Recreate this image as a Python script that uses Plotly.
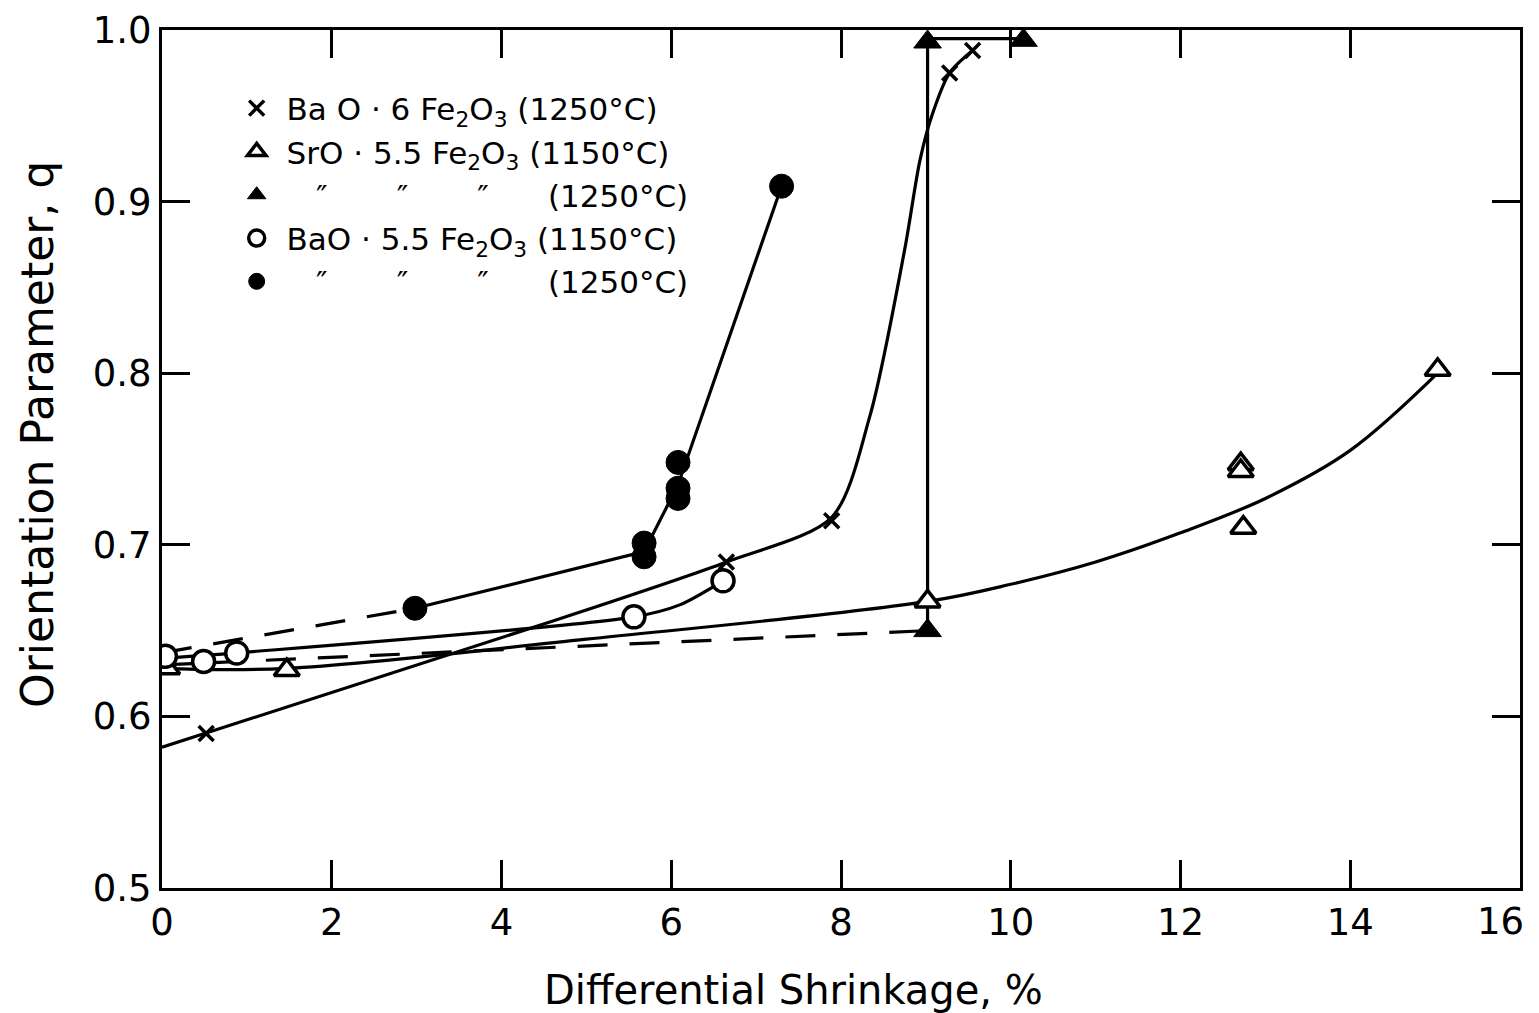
import plotly.graph_objects as go

# ---------------- data ----------------
# BaO.6Fe2O3 (1250 C)  -- x markers
bao6_x = [0.52, 6.65, 7.89, 9.28, 9.55]
bao6_y = [0.590, 0.690, 0.714, 0.975, 0.988]
# fitted curve through BaO.6Fe2O3 points
bao6_fit_x = [0.0, 4.57, 6.65, 7.89, 8.34, 8.75, 8.93, 9.07, 9.28, 9.55]
bao6_fit_y = [0.582, 0.655, 0.690, 0.716, 0.775, 0.872, 0.924, 0.950, 0.975, 0.988]

# SrO.5.5Fe2O3 (1150 C) -- open triangles
sr1150_x = [0.06, 1.47, 9.02, 12.71, 12.71, 12.74, 15.03]
sr1150_y = [0.628, 0.627, 0.667, 0.747, 0.743, 0.710, 0.802]
sr1150_fit_x = [0.0, 1.47, 5.0, 9.02, 10.0, 11.0, 12.0, 13.0, 14.0, 15.03]
sr1150_fit_y = [0.628, 0.628, 0.645, 0.667, 0.677, 0.690, 0.707, 0.727, 0.755, 0.800]

# SrO.5.5Fe2O3 (1250 C) -- filled triangles
sr1250_x = [9.02, 9.02, 10.15]
sr1250_y = [0.650, 0.993, 0.994]
sr1250_dash_x = [0.0, 9.02]
sr1250_dash_y = [0.630, 0.650]
sr1250_step_x = [9.02, 9.02, 10.15]
sr1250_step_y = [0.650, 0.995, 0.995]

# BaO.5.5Fe2O3 (1150 C) -- open circles
ba1150_x = [0.04, 0.49, 0.88, 5.56, 6.61]
ba1150_y = [0.635, 0.632, 0.637, 0.658, 0.679]
ba1150_fit_x = [0.04, 0.88, 5.56, 6.10, 6.61]
ba1150_fit_y = [0.634, 0.637, 0.658, 0.665, 0.679]

# BaO.5.5Fe2O3 (1250 C) -- filled circles
ba1250_x = [2.98, 5.68, 5.68, 6.08, 6.08, 6.08, 7.30]
ba1250_y = [0.663, 0.701, 0.693, 0.748, 0.733, 0.727, 0.909]
ba1250_dash_x = [0.0, 2.98]
ba1250_dash_y = [0.637, 0.663]
ba1250_fit_x = [2.98, 5.68, 6.08, 7.30]
ba1250_fit_y = [0.663, 0.696, 0.735, 0.909]

NB = "\u00a0"
x_ticks = [0, 2, 4, 6, 8, 10, 12, 14, 16]
x_tick_text = ["0", "2", "4", "6", "8", "10", "12", "14", ""]
x_last_label = "16"
y_ticks = [0.5, 0.6, 0.7, 0.8, 0.9, 1.0]
y_tick_text = ["0.5", "0.6", "0.7", "0.8", "0.9", "1.0"]

x_title = "Differential Shrinkage, %"
y_title = "Orientation Parameter, q"

legend_names = [
    NB + "Ba O · 6 Fe<sub>2</sub>O<sub>3</sub> (1250°C)",
    NB + "SrO · 5.5 Fe<sub>2</sub>O<sub>3</sub> (1150°C)",
    NB * 4 + "\u2033" + NB * 7 + "\u2033" + NB * 7 + "\u2033" + NB * 6 + "(1250°C)",
    NB + "BaO · 5.5 Fe<sub>2</sub>O<sub>3</sub> (1150°C)",
    NB * 4 + "\u2033" + NB * 7 + "\u2033" + NB * 7 + "\u2033" + NB * 6 + "(1250°C)",
]

FONT = "DejaVu Sans"
LW = 3.2

fig = go.Figure()

# ---- lines (not in legend) ----
def line(x, y, dash="solid", shape="spline", smoothing=0.8):
    fig.add_trace(go.Scatter(x=x, y=y, mode="lines", showlegend=False,
                             line=dict(color="black", width=LW, dash=dash, shape=shape,
                                       smoothing=smoothing if shape == "spline" else None),
                             hoverinfo="skip"))

line(bao6_fit_x, bao6_fit_y)
line(sr1150_fit_x, sr1150_fit_y, smoothing=1.0)
line(sr1250_dash_x, sr1250_dash_y, dash="30px,22px", shape="linear")
line(sr1250_step_x, sr1250_step_y, shape="linear")
line(ba1150_fit_x, ba1150_fit_y)
line(ba1250_dash_x, ba1250_dash_y, dash="30px,22px", shape="linear")
line(ba1250_fit_x, ba1250_fit_y, shape="linear")

# ---- markers ----
fig.add_trace(go.Scatter(x=bao6_x, y=bao6_y, mode="markers", name=legend_names[0],
                         marker=dict(symbol="x-thin-open", size=15, color="black",
                                     line=dict(color="black", width=3.5))))
fig.add_trace(go.Scatter(x=sr1150_x, y=sr1150_y, mode="markers", name=legend_names[1],
                         marker=dict(symbol="triangle-up", size=22, color="white",
                                     line=dict(color="black", width=3.5))))
fig.add_trace(go.Scatter(x=sr1250_x, y=sr1250_y, mode="markers", name=legend_names[2],
                         marker=dict(symbol="triangle-up", size=24, color="black",
                                     line=dict(color="black", width=1))))
fig.add_trace(go.Scatter(x=ba1150_x, y=ba1150_y, mode="markers", name=legend_names[3],
                         marker=dict(symbol="circle", size=22, color="white",
                                     line=dict(color="black", width=3.5))))
fig.add_trace(go.Scatter(x=ba1250_x, y=ba1250_y, mode="markers", name=legend_names[4],
                         marker=dict(symbol="circle", size=24, color="black",
                                     line=dict(color="black", width=1))))

axis_common = dict(showgrid=False, zeroline=False, showline=True, linecolor="black",
                   linewidth=3, mirror="ticks", ticks="inside", ticklen=28, tickwidth=3,
                   tickcolor="black", automargin=False, ticklabeloverflow="allow",
                   tickfont=dict(family=FONT, size=37, color="black"))

fig.update_xaxes(range=[0, 16], tickvals=x_ticks, ticktext=x_tick_text, **axis_common)
fig.update_yaxes(range=[0.5, 1.0], tickvals=y_ticks, ticktext=y_tick_text, **axis_common)

# last x tick label, right-aligned at its tick so it stays inside the page
fig.add_annotation(x=x_ticks[-1], y=0, xref="x", yref="paper", text=x_last_label,
                   showarrow=False, xanchor="right", yanchor="top", xshift=6, yshift=-10,
                   font=dict(family=FONT, size=37, color="black"))
# axis titles
fig.add_annotation(x=0.465, y=0, xref="paper", yref="paper", text=x_title,
                   showarrow=False, xanchor="center", yanchor="middle", yshift=-102,
                   font=dict(family=FONT, size=40, color="black"))
fig.add_annotation(x=0, y=0.528, xref="paper", yref="paper", text=y_title,
                   showarrow=False, xanchor="center", yanchor="middle", xshift=-124,
                   textangle=-90, font=dict(family=FONT, size=44, color="black"))

fig.update_layout(
    width=1531, height=1005,
    margin=dict(l=154, r=19, t=22, b=125, autoexpand=False),
    plot_bgcolor="white", paper_bgcolor="white",
    font=dict(family=FONT, color="black"),
    legend=dict(x=0.055, y=0.94, xanchor="left", yanchor="top",
                bgcolor="rgba(0,0,0,0)", borderwidth=0,
                font=dict(family=FONT, size=31, color="black"),
                itemwidth=30, tracegroupgap=0),
)

fig.write_html("out.html")
